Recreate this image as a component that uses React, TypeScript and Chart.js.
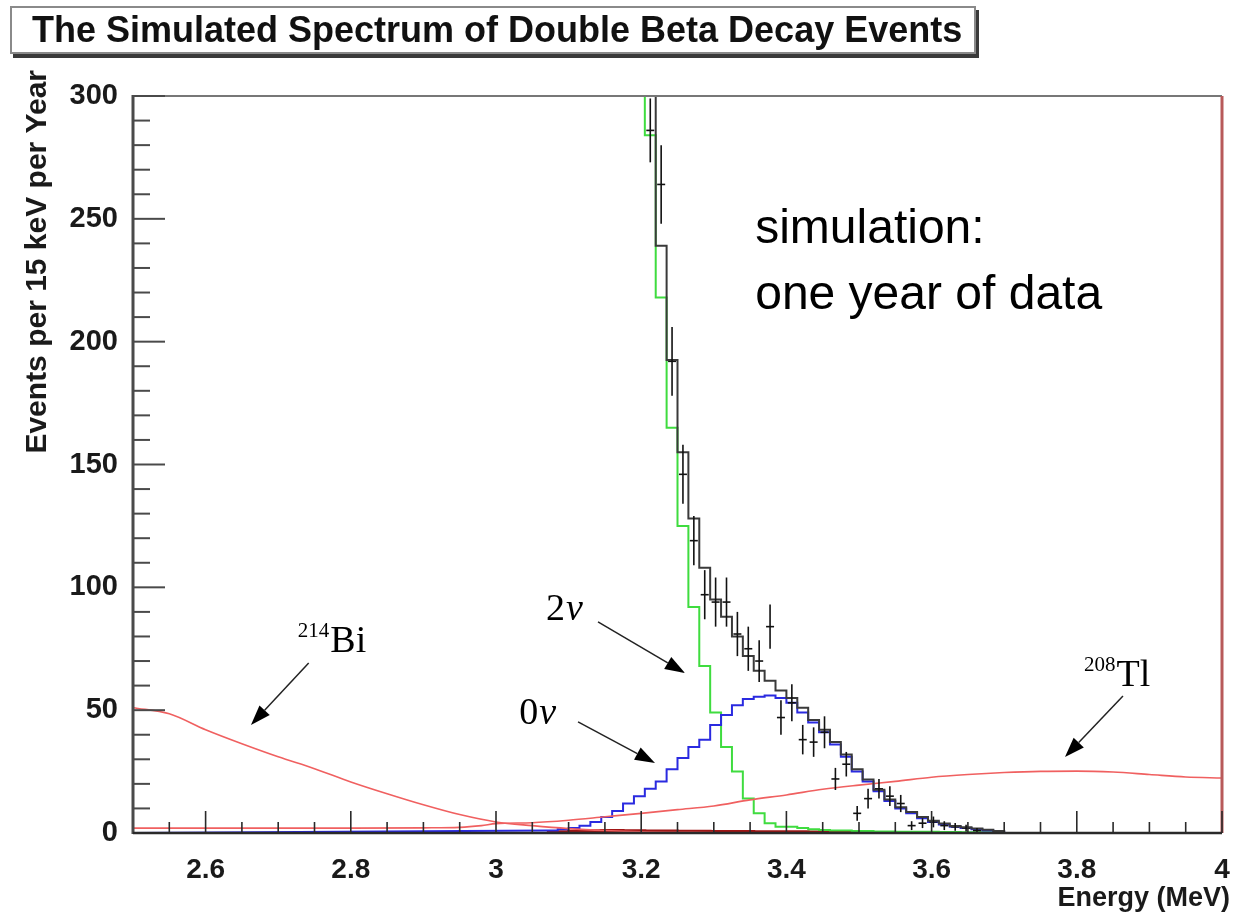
import React, { useEffect, useRef } from 'react';
import { Chart, registerables } from 'chart.js';

Chart.register(...registerables);

// ---------- axis ranges & ticks ----------
const X_MIN = 2.5;
const X_MAX = 4.0;
const Y_MIN = 0;
const Y_MAX = 300;

const xMajorTicks = [2.6, 2.8, 3.0, 3.2, 3.4, 3.6, 3.8, 4.0];
const xMinorTicks = [2.55, 2.65, 2.7, 2.75, 2.85, 2.9, 2.95, 3.05, 3.1, 3.15, 3.25, 3.3, 3.35, 3.45, 3.5, 3.55, 3.65, 3.7, 3.75, 3.85, 3.9, 3.95];
const yMajorTicks = [0, 50, 100, 150, 200, 250, 300];
const yMinorTicks = [10, 20, 30, 40, 60, 70, 80, 90, 110, 120, 130, 140, 160, 170, 180, 190, 210, 220, 230, 240, 260, 270, 280, 290];

// ---------- histogram binning (15 keV bins) ----------
const BIN_START = 2.5;
const BIN_WIDTH = 0.015;

// 2nu (green) histogram, starting at bin 46
const twoNuStartBin = 46;
const twoNuCounts = [400, 284, 218, 165, 125, 92, 68, 49, 35, 25, 14, 8, 4, 2.5, 2.5, 2, 1.5, 1.2, 1, 1, 0.8, 0.8, 0.6, 0.6, 0.5, 0.5, 0.5, 0.5, 0.4, 0.4, 0.3, 0.3, 0.3];

// 0nu (blue) histogram, starting at bin 38
const zeroNuStartBin = 38;
const zeroNuCounts = [1, 1.5, 2, 3, 4.5, 6.5, 9, 12, 15, 18, 21, 26, 30.5, 35, 38, 44, 48, 52, 54.5, 55.5, 56, 55, 53, 49, 45, 41, 36, 31, 25, 21, 17, 13, 10, 8, 6, 4.5, 3.5, 2.5, 2, 1.5, 1, 0.5];

// total MC (black) histogram, starting at bin 46
const totalStartBin = 46;
const totalCounts = [400, 330, 239, 192.5, 155, 128, 108, 95, 88, 80, 72, 66, 62, 58, 55, 51, 46, 42, 37, 32, 26, 21.8, 17.6, 13.6, 10.5, 8.5, 6.5, 5, 3.9, 2.9, 2.3, 1.8, 1.3, 0.8];

// other background near zero (dark red), starting at bin 38
const otherBgStartBin = 38;
const otherBgCounts = [0.3, 0.5, 0.7, 0.8, 0.9, 1, 1, 0.9, 0.9, 0.8, 0.8, 0.8, 0.7, 0.7, 0.7, 0.6, 0.6, 0.6, 0.6, 0.5, 0.5, 0.5, 0.5, 0.5, 0.4, 0.4, 0.4, 0.3, 0.3];

// simulated data points with error bars, starting at bin 47
const dataStartBin = 47;
const dataCounts = [286, 264, 192, 146, 119, 97, 94, 94, 81, 75, 70, 84, 47, 53, 38, 37, 41, 22, 28, 8, 14, 18, 15, 12, 3, 4, 4.5, 3, 2.5, 2, 1];
const dataErrors = [13, 16, 14, 12, 10, 10, 10, 10, 9, 9, 8.5, 9, 7, 7.5, 6, 6, 6.5, 4.5, 5, 3, 4, 4, 4, 3.5, 1.8, 2, 2.2, 1.8, 1.6, 1.4, 1];

// 214Bi background curve
const bi214Energy = [2.5, 2.55, 2.6, 2.65, 2.7, 2.75, 2.8, 2.85, 2.9, 2.95, 3.0, 3.05, 3.1, 3.15, 3.2, 3.3];
const bi214Counts = [51, 48.5, 42, 36.3, 31, 26.2, 20.8, 16, 11.5, 7.5, 4.5, 3, 1.8, 1, 0.5, 0.2];

// 208Tl background curve
const tl208Energy = [2.5, 2.6, 2.7, 2.8, 2.9, 2.95, 2.98, 3.0, 3.05, 3.1, 3.15, 3.2, 3.25, 3.3, 3.35, 3.4, 3.45, 3.5, 3.55, 3.6, 3.65, 3.7, 3.75, 3.8, 3.85, 3.9, 3.95, 4.0];
const tl208Counts = [2, 2, 2, 2, 2.1, 2.3, 3, 3.8, 4.2, 5.2, 6.6, 8, 9.5, 11, 13.5, 15.5, 17.8, 19.5, 21, 22.7, 23.8, 24.6, 25.1, 25.2, 24.8, 23.8, 22.8, 22.4];

// ---------- annotations (data coordinates) ----------
const annotationTexts = ['simulation:', 'one year of data'];
const annotationAnchor = { x: 3.357, y: 240.1, y2: 213.3 };
const labelBi = { sup: '214', main: 'Bi', x: 2.727, y: 73.7 };
const labelTl = { sup: '208', main: 'Tl', x: 3.81, y: 60 };
const label2nu = { pre: '2', nu: 'ν', x: 3.069, y: 86.7 };
const label0nu = { pre: '0', nu: 'ν', x: 3.032, y: 44.4 };
const arrows = [
  { x1: 2.742, y1: 69.2, x2: 2.6625, y2: 44 },
  { x1: 3.1405, y1: 85.9, x2: 3.2603, y2: 65.1 },
  { x1: 3.113, y1: 45.2, x2: 3.219, y2: 28.5 },
  { x1: 3.8636, y1: 55.8, x2: 3.7837, y2: 30.9 },
];

const SANS = '"Liberation Sans", Arial, Helvetica, sans-serif';
const SERIF = '"Liberation Serif", "Times New Roman", serif';

function histPoints(startBin: number, counts: number[]) {
  const pts: { x: number; y: number }[] = [];
  counts.forEach((c, i) => {
    pts.push({ x: BIN_START + (startBin + i) * BIN_WIDTH, y: c });
    pts.push({ x: BIN_START + (startBin + i + 1) * BIN_WIDTH, y: c });
  });
  pts.push({ x: BIN_START + (startBin + counts.length) * BIN_WIDTH, y: 0 });
  return pts;
}

function drawArrow(ctx: CanvasRenderingContext2D, x1: number, y1: number, x2: number, y2: number) {
  const ang = Math.atan2(y2 - y1, x2 - x1);
  const len = 20;
  const hw = 7;
  const bx = x2 - len * Math.cos(ang);
  const by = y2 - len * Math.sin(ang);
  ctx.beginPath();
  ctx.moveTo(x1, y1);
  ctx.lineTo(bx, by);
  ctx.strokeStyle = '#222';
  ctx.lineWidth = 1.5;
  ctx.stroke();
  ctx.beginPath();
  ctx.moveTo(x2, y2);
  ctx.lineTo(bx + hw * Math.sin(ang), by - hw * Math.cos(ang));
  ctx.lineTo(bx - hw * Math.sin(ang), by + hw * Math.cos(ang));
  ctx.closePath();
  ctx.fillStyle = '#000';
  ctx.fill();
}

const rootPlugin = {
  id: 'rootDecor',
  afterDatasetsDraw(chart: any) {
    const { ctx, chartArea: a, scales } = chart;
    const xs = scales.x;
    const ys = scales.y;
    ctx.save();
    // error bars
    ctx.beginPath();
    ctx.rect(a.left, a.top, a.right - a.left, a.bottom - a.top);
    ctx.clip();
    ctx.strokeStyle = '#111';
    ctx.lineWidth = 1.6;
    dataCounts.forEach((c, i) => {
      const e = dataErrors[i];
      const cx = xs.getPixelForValue(BIN_START + (dataStartBin + i + 0.5) * BIN_WIDTH);
      ctx.beginPath();
      ctx.moveTo(cx, ys.getPixelForValue(c - e));
      ctx.lineTo(cx, ys.getPixelForValue(c + e));
      ctx.stroke();
    });
    ctx.restore();

    ctx.save();
    // frame
    ctx.strokeStyle = '#777';
    ctx.lineWidth = 2;
    ctx.beginPath();
    ctx.moveTo(a.left, a.top);
    ctx.lineTo(a.right, a.top);
    ctx.stroke();
    ctx.strokeStyle = '#b85a5a';
    ctx.lineWidth = 3;
    ctx.beginPath();
    ctx.moveTo(a.right, a.top);
    ctx.lineTo(a.right, a.bottom);
    ctx.stroke();
    // y axis
    ctx.strokeStyle = '#4a4a4a';
    ctx.lineWidth = 3;
    ctx.beginPath();
    ctx.moveTo(a.left, a.top - 1);
    ctx.lineTo(a.left, a.bottom + 1);
    ctx.stroke();
    ctx.lineWidth = 2;
    yMajorTicks.forEach((v) => {
      const py = ys.getPixelForValue(v);
      ctx.beginPath();
      ctx.moveTo(a.left, py);
      ctx.lineTo(a.left + 32, py);
      ctx.stroke();
    });
    yMinorTicks.forEach((v) => {
      const py = ys.getPixelForValue(v);
      ctx.beginPath();
      ctx.moveTo(a.left, py);
      ctx.lineTo(a.left + 17, py);
      ctx.stroke();
    });
    // x axis
    ctx.strokeStyle = '#2a2a2a';
    ctx.lineWidth = 2.5;
    ctx.beginPath();
    ctx.moveTo(a.left, a.bottom);
    ctx.lineTo(a.right, a.bottom);
    ctx.stroke();
    ctx.lineWidth = 1.6;
    xMajorTicks.forEach((v) => {
      const px = xs.getPixelForValue(v);
      ctx.beginPath();
      ctx.moveTo(px, a.bottom);
      ctx.lineTo(px, a.bottom - 22);
      ctx.stroke();
    });
    xMinorTicks.forEach((v) => {
      const px = xs.getPixelForValue(v);
      ctx.beginPath();
      ctx.moveTo(px, a.bottom);
      ctx.lineTo(px, a.bottom - 11);
      ctx.stroke();
    });

    // axis titles
    ctx.fillStyle = '#1a1a1a';
    ctx.font = `bold 27px ${SANS}`;
    ctx.textAlign = 'right';
    ctx.textBaseline = 'alphabetic';
    ctx.fillText('Energy (MeV)', 1230, 906);
    ctx.save();
    ctx.translate(46, 70);
    ctx.rotate(-Math.PI / 2);
    ctx.font = `bold 30px ${SANS}`;
    ctx.textAlign = 'right';
    ctx.fillText('Events per 15 keV per Year', 0, 0);
    ctx.restore();

    // annotation text
    ctx.fillStyle = '#000';
    ctx.textAlign = 'left';
    ctx.font = `48px ${SANS}`;
    const ax = xs.getPixelForValue(annotationAnchor.x);
    ctx.fillText(annotationTexts[0], ax, ys.getPixelForValue(annotationAnchor.y));
    ctx.fillText(annotationTexts[1], ax, ys.getPixelForValue(annotationAnchor.y2));

    const drawIso = (lab: any) => {
      const lx = xs.getPixelForValue(lab.x);
      const ly = ys.getPixelForValue(lab.y);
      ctx.font = `21px ${SERIF}`;
      ctx.fillText(lab.sup, lx, ly - 15);
      const w = ctx.measureText(lab.sup).width;
      ctx.font = `38px ${SERIF}`;
      ctx.fillText(lab.main, lx + w + 1, ly);
    };
    drawIso(labelBi);
    drawIso(labelTl);
    const drawNu = (lab: any) => {
      const lx = xs.getPixelForValue(lab.x);
      const ly = ys.getPixelForValue(lab.y);
      ctx.font = `38px ${SERIF}`;
      ctx.fillText(lab.pre, lx, ly);
      const w = ctx.measureText(lab.pre).width;
      ctx.font = `italic 38px ${SERIF}`;
      ctx.fillText(lab.nu, lx + w + 1, ly);
    };
    drawNu(label2nu);
    drawNu(label0nu);

    arrows.forEach((ar) => {
      drawArrow(ctx, xs.getPixelForValue(ar.x1), ys.getPixelForValue(ar.y1), xs.getPixelForValue(ar.x2), ys.getPixelForValue(ar.y2));
    });
    ctx.restore();
  },
};

export default function App() {
  const canvasRef = useRef<HTMLCanvasElement | null>(null);

  useEffect(() => {
    const canvas = canvasRef.current;
    if (!canvas) return;
    const bluePts = [{ x: X_MIN, y: 0 }, ...histPoints(zeroNuStartBin, zeroNuCounts)];
    const chart = new Chart(canvas, {
      type: 'line',
      data: {
        datasets: [
          {
            label: 'total',
            data: histPoints(totalStartBin, totalCounts),
            borderColor: '#3a3a3a',
            borderWidth: 2,
            pointRadius: 0,
            tension: 0,
            order: 0,
          },
          {
            type: 'scatter',
            label: 'data',
            data: dataCounts.map((c, i) => ({ x: BIN_START + (dataStartBin + i + 0.5) * BIN_WIDTH, y: c })),
            pointStyle: 'line',
            pointRadius: 4,
            borderColor: '#111',
            borderWidth: 1.6,
            order: 0,
          } as any,
          {
            label: '208Tl',
            data: tl208Energy.map((e, i) => ({ x: e, y: tl208Counts[i] })),
            borderColor: '#f06060',
            borderWidth: 1.6,
            pointRadius: 0,
            tension: 0.4,
            cubicInterpolationMode: 'monotone',
            order: 1,
          },
          {
            label: '214Bi',
            data: bi214Energy.map((e, i) => ({ x: e, y: bi214Counts[i] })),
            borderColor: '#f06060',
            borderWidth: 1.6,
            pointRadius: 0,
            tension: 0.4,
            cubicInterpolationMode: 'monotone',
            order: 1,
          },
          {
            label: '0nu',
            data: bluePts,
            borderColor: '#2a2ae0',
            borderWidth: 2,
            pointRadius: 0,
            tension: 0,
            order: 2,
          },
          {
            label: '2nu',
            data: histPoints(twoNuStartBin, twoNuCounts),
            borderColor: '#3fdc3f',
            borderWidth: 2,
            pointRadius: 0,
            tension: 0,
            order: 3,
          },
          {
            label: 'other',
            data: histPoints(otherBgStartBin, otherBgCounts),
            borderColor: '#a01515',
            borderWidth: 3,
            pointRadius: 0,
            tension: 0,
            order: 4,
          },
        ],
      },
      options: {
        animation: false,
        responsive: false,
        maintainAspectRatio: false,
        layout: { padding: { top: 96, right: 14, left: 0, bottom: 0 } },
        plugins: { legend: { display: false }, tooltip: { enabled: false }, title: { display: false } },
        scales: {
          x: {
            type: 'linear',
            min: X_MIN,
            max: X_MAX,
            grid: { display: false, drawTicks: false },
            border: { display: false },
            afterBuildTicks: (scale: any) => {
              scale.ticks = xMajorTicks.map((v) => ({ value: v }));
            },
            afterFit: (scale: any) => {
              scale.height = 79;
              scale.paddingLeft = 0;
              scale.paddingRight = 0;
            },
            ticks: {
              autoSkip: false,
              maxRotation: 0,
              padding: 20,
              color: '#1a1a1a',
              font: { family: SANS, weight: 'bold', size: 28 },
              callback: (v: any) => String(Number(v)),
            },
          },
          y: {
            type: 'linear',
            min: Y_MIN,
            max: Y_MAX,
            grid: { display: false, drawTicks: false },
            border: { display: false },
            afterBuildTicks: (scale: any) => {
              scale.ticks = yMajorTicks.map((v) => ({ value: v }));
            },
            afterFit: (scale: any) => {
              scale.width = 133;
              scale.paddingTop = 0;
              scale.paddingBottom = 0;
            },
            ticks: {
              autoSkip: false,
              padding: 15,
              color: '#1a1a1a',
              font: { family: SANS, weight: 'bold', size: 29 },
            },
          },
        },
      } as any,
      plugins: [rootPlugin],
    });
    return () => chart.destroy();
  }, []);

  return (
    <div style={{ position: 'absolute', left: 0, top: 0, width: 1236, height: 912, background: '#fff' }}>
      <canvas ref={canvasRef} width={1236} height={912} style={{ position: 'absolute', left: 0, top: 0, width: 1236, height: 912 }} />
      <div
        style={{
          position: 'absolute',
          left: 10,
          top: 6,
          width: 966,
          height: 48,
          boxSizing: 'border-box',
          border: '2px solid #8a8a8a',
          boxShadow: '3px 4px 0 #3a3a3a',
          background: '#fff',
          fontFamily: SANS,
          fontWeight: 'bold',
          fontSize: 36,
          lineHeight: '44px',
          paddingLeft: 20,
          whiteSpace: 'nowrap',
          color: '#111',
        }}
      >
        The Simulated Spectrum of Double Beta Decay Events
      </div>
    </div>
  );
}
